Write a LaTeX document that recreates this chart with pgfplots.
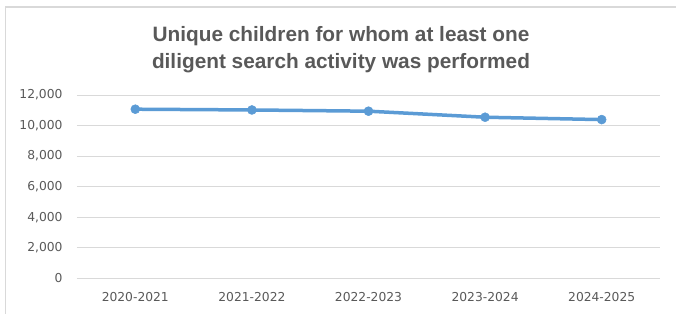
\documentclass[border=0pt]{standalone}
\usepackage{pgfplots}
\pgfplotsset{compat=1.18}
\usepackage{fontspec}
\setmainfont{Liberation Sans}
\newfontfamily\tickfont{DejaVu Sans}
\definecolor{linecol}{HTML}{5B9BD5}
\definecolor{gridcol}{HTML}{D9D9D9}
\definecolor{textcol}{HTML}{595959}
\begin{document}
\begin{tikzpicture}
\begin{axis}[
  at={(0,0)}, anchor=south west,
  scale only axis,
  width=583bp, height=183.3bp,
  xmin=-0.5, xmax=4.5,
  ymin=0, ymax=12000,
  xtick={0,1,2,3,4},
  xticklabels={2020-2021,2021-2022,2022-2023,2023-2024,2024-2025},
  ytick={0,2000,4000,6000,8000,10000,12000},
  ymajorgrids,
  grid style={gridcol, line width=0.9bp},
  axis line style={draw=none},
  major tick length=0pt,
  tick style={draw=none},
  scaled y ticks=false,
  /pgf/number format/assume math mode=true,
  yticklabel={\pgfmathprintnumber[1000 sep={,}]{\tick}},
  ticklabel style={font=\tickfont\fontsize{12.3bp}{14bp}\selectfont, text=textcol},
  yticklabel style={xshift=-11bp},
  xticklabel style={yshift=-11bp},
  clip=false,
]
\addplot[color=linecol, line width=3.5bp, mark=*, mark size=4.5bp, mark options={solid, fill=linecol, draw=linecol, line width=0.5bp}]
  coordinates {(0,11070) (1,11020) (2,10940) (3,10545) (4,10390)};
\end{axis}
\pgfresetboundingbox
\useasboundingbox (-77bp,-35.7bp) rectangle (599bp,278.3bp);
\draw[gridcol, line width=1.5bp] (-71.5bp,-40bp) -- (-71.5bp,271.3bp) -- (610bp,271.3bp);
\node[text=textcol, font=\bfseries\fontsize{20.8bp}{27bp}\selectfont, align=center] at (264bp,229bp)
  {Unique children for whom at least one\\diligent search activity was performed};
\end{tikzpicture}
\end{document}
